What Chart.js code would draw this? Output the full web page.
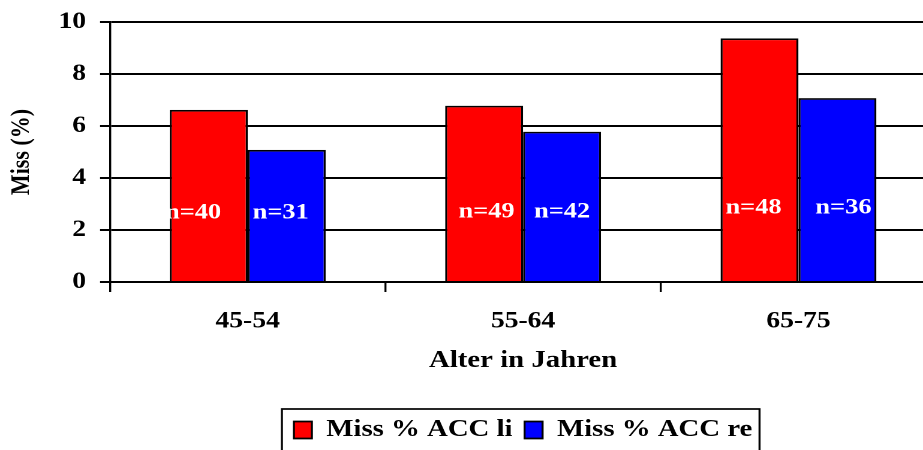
<!DOCTYPE html>
<html>
<head>
<meta charset="utf-8">
<script src="https://cdn.jsdelivr.net/npm/chart.js@4/dist/chart.umd.min.js"></script>
<style>
  html, body { margin: 0; padding: 0; background: #fff; overflow: hidden; }
  #wrap { width: 923px; height: 450px; overflow: hidden; position: relative; }
</style>
</head>
<body>
<div id="wrap"><canvas id="c" width="782" height="450" style="display:block;width:938.4px;height:450px"></canvas></div>
<script>
// Age groups and miss rates (%) per side
const ageGroups = ['45-54', '55-64', '65-75'];
const missLeft  = [6.62, 6.78, 9.37];
const missRight = [5.08, 5.78, 7.07];
// Sample sizes printed inside the bars
const nLeft  = [40, 49, 48];
const nRight = [31, 42, 36];
const yTicks = [0, 2, 4, 6, 8, 10];

const FONT = '"Liberation Serif", "Times New Roman", serif';

// Places the "n=.." captions inside each bar, near its lower part
const sampleLabels = {
  id: 'sampleLabels',
  afterDatasetsDraw(chart, args, opts) {
    const ctx = chart.ctx;
    const zero = chart.scales.y.getPixelForValue(0);
    ctx.save();
    ctx.font = 'bold 22px ' + FONT;
    ctx.fillStyle = '#ffffff';
    ctx.textAlign = 'center';
    ctx.textBaseline = 'middle';
    chart.data.datasets.forEach((ds, di) => {
      const meta = chart.getDatasetMeta(di);
      meta.data.forEach((bar, i) => {
        const off = opts.offsets[di][i];
        ctx.fillText('n=' + ds.sampleSizes[i], bar.x + off[0], zero + off[1]);
      });
    });
    ctx.restore();
  }
};

// Frame around the legend entries
const legendFrame = {
  id: 'legendFrame',
  afterDraw(chart) {
    const lg = chart.legend;
    if (!lg || !lg.legendHitBoxes.length) return;
    const hb = lg.legendHitBoxes;
    const left = Math.min(...hb.map(h => h.left)) - 10;
    const right = Math.max(...hb.map(h => h.left + h.width)) + 6;
    const top = Math.min(...hb.map(h => h.top)) - 9;
    const ctx = chart.ctx;
    ctx.save();
    ctx.strokeStyle = '#000';
    ctx.lineWidth = 1.7;
    ctx.strokeRect(left, top, right - left, 80);
    ctx.restore();
  }
};

new Chart(document.getElementById('c'), {
  type: 'bar',
  data: {
    labels: ageGroups,
    datasets: [
      {
        label: 'Miss % ACC li',
        data: missLeft,
        sampleSizes: nLeft,
        backgroundColor: '#ff0000',
        borderColor: '#000000',
        borderWidth: 1.7,
        borderSkipped: 'start',
        categoryPercentage: 0.566,
        barPercentage: 1.0
      },
      {
        label: 'Miss % ACC re',
        data: missRight,
        sampleSizes: nRight,
        backgroundColor: '#0000ff',
        borderColor: '#000000',
        borderWidth: 1.7,
        borderSkipped: 'start',
        categoryPercentage: 0.566,
        barPercentage: 1.0
      }
    ]
  },
  options: {
    responsive: false,
    devicePixelRatio: 2,
    animation: false,
    layout: { padding: { top: 22, right: 1.5, left: 0, bottom: -2 } },
    scales: {
      x: {
        afterFit(scale) { scale.height = 126; },
        grid: {
          offset: true,
          drawOnChartArea: false,
          drawTicks: true,
          tickLength: 10,
          color: '#000',
          lineWidth: 1.7
        },
        border: { display: true, color: '#000', width: 2 },
        ticks: {
          color: '#000',
          font: { family: FONT, size: 23, weight: 'bold' },
          padding: 16
        },
        title: {
          display: true,
          text: 'Alter in Jahren',
          color: '#000',
          font: { family: FONT, size: 24, weight: 'bold' },
          padding: { top: 0, bottom: 32.6 }
        }
      },
      y: {
        min: 0,
        max: 10,
        afterFit(scale) {
          scale.width = 91.7;
          scale.paddingTop = 0;
          scale.paddingBottom = 0;
        },
        afterBuildTicks(scale) { scale.ticks = yTicks.map(v => ({ value: v })); },
        grid: {
          color: '#000',
          lineWidth: 2,
          drawTicks: true,
          tickLength: 8.3
        },
        border: { display: true, color: '#000', width: 1.7 },
        ticks: {
          color: '#000',
          font: { family: FONT, size: 23, weight: 'bold' },
          padding: 11.7
        },
        title: {
          display: true,
          text: 'Miss (%)',
          color: '#000',
          font: { family: FONT, size: 22, weight: 'bold' },
          padding: { top: 5, bottom: 0 }
        }
      }
    },
    plugins: {
      legend: {
        position: 'bottom',
        fullSize: false,
        labels: {
          color: '#000',
          font: { family: FONT, size: 24, weight: 'bold' },
          boxWidth: 15,
          boxHeight: 17,
          padding: 10
        }
      },
      tooltip: { enabled: false },
      sampleLabels: {
        offsets: [
          [[-13, -69], [2, -70], [-5, -74]],
          [[-5, -69], [0, -70], [5, -74]]
        ]
      }
    }
  },
  plugins: [sampleLabels, legendFrame]
});
</script>
</body>
</html>
